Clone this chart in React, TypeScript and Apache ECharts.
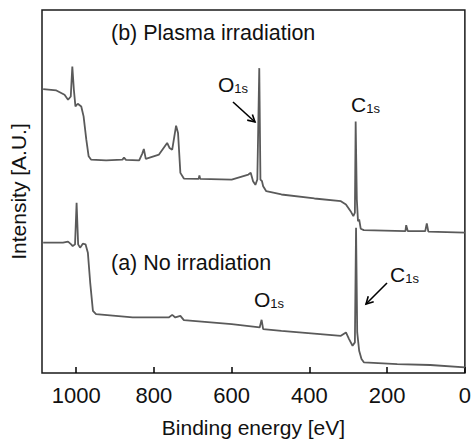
import React, { useEffect, useRef } from "react";
import * as echarts from "echarts";

// (b) Plasma irradiation: binding energy [eV] and intensity [A.U.]
const energyB = [1085, 1051, 1030, 1021, 1014, 1010, 1006, 1002, 996, 987, 981, 974, 968, 962, 923, 881, 877, 872, 838, 830, 826, 821, 787, 766, 760, 753, 743, 738, 732, 723, 685, 683, 681, 600, 557, 551, 545, 539, 534, 529, 526, 522, 519, 511, 472, 387, 319, 306, 294, 287, 283, 281, 278, 275, 272, 268, 260, 153, 151, 147, 102, 98, 94, 0];
const intensityB = [284.7, 283.3, 279, 274, 277.3, 307.3, 284, 267.3, 270, 267.3, 257.3, 234, 217.3, 214, 213.3, 214, 216, 213.7, 213.3, 220, 224.7, 214.7, 219, 230.7, 225.7, 224, 248, 240.7, 200.7, 195, 194.7, 198, 194.7, 194, 199, 200.7, 192.3, 188.7, 194, 305.7, 194, 192.3, 187.3, 182.3, 179, 175, 172.3, 169, 162.3, 157.3, 160.7, 252.3, 174, 152.3, 154, 144.7, 143.3, 142.3, 148.3, 142.3, 142.3, 150, 141.7, 140.7];

// (a) No irradiation
const energyA = [1085, 1034, 1021, 1013, 1009, 1003, 999, 995, 990, 983, 976, 970, 964, 957, 949, 855, 762, 753, 745, 732, 723, 600, 528, 523, 519, 472, 319, 306, 298, 289, 283, 280, 277, 272, 266, 260, 174, 89, 0];
const intensityA = [130.7, 130.7, 131.7, 129, 127.3, 129, 170.7, 129, 125.7, 129.7, 129, 120.7, 90.7, 62.3, 59, 55.7, 55.7, 58.3, 55.7, 57.3, 53, 49, 45.7, 53.3, 44, 42.3, 37.3, 40.7, 34, 27.3, 30.7, 145.7, 40.7, 22.3, 14, 10.7, 9, 8, 5.7];

const xTickStep = 200;
const xMin = 0;
const xMax = 1088;

const FONT = "'Liberation Sans', Arial, Helvetica, sans-serif";
const INK = "#111";

function arrow(x1: number, y1: number, x2: number, y2: number, head = 8) {
  const ang = Math.atan2(y2 - y1, x2 - x1);
  const a1 = ang + Math.PI - 0.5;
  const a2 = ang + Math.PI + 0.5;
  return [
    { type: "line", shape: { x1, y1, x2, y2 }, style: { stroke: "#000", lineWidth: 1.6 }, z: 10 },
    {
      type: "polyline",
      shape: {
        points: [
          [x2 + head * Math.cos(a1), y2 + head * Math.sin(a1)],
          [x2, y2],
          [x2 + head * Math.cos(a2), y2 + head * Math.sin(a2)],
        ],
      },
      style: { stroke: "#000", lineWidth: 1.6, fill: null },
      z: 10,
    },
  ];
}

function subLabel(main: string, sub: string, x: number, y: number) {
  return {
    type: "text",
    x,
    y,
    z: 10,
    style: {
      text: `{a|${main}}{b|${sub}}`,
      verticalAlign: "middle",
      align: "left",
      fill: INK,
      rich: {
        a: { fontSize: 21, lineHeight: 24, fontFamily: FONT, fill: INK },
        b: { fontSize: 13, lineHeight: 15, padding: [9, 0, 0, 0], fontFamily: FONT, fill: INK },
      },
    },
  };
}

function plainLabel(text: string, x: number, y: number) {
  return {
    type: "text",
    x,
    y,
    z: 10,
    style: { text, fontSize: 21.5, fontFamily: FONT, fill: INK, verticalAlign: "middle", align: "left" },
  };
}

export default function App() {
  const ref = useRef<HTMLDivElement>(null);
  useEffect(() => {
    if (!ref.current) return;
    const chart = echarts.init(ref.current, undefined, { renderer: "svg" });
    chart.setOption({
      animation: false,
      backgroundColor: "#fff",
      grid: {
        left: 42,
        right: 5,
        top: 10,
        bottom: 69,
        show: true,
        borderColor: "#1a1a1a",
        borderWidth: 1.5,
        backgroundColor: "transparent",
      },
      xAxis: {
        type: "value",
        inverse: true,
        min: xMin,
        max: xMax,
        interval: xTickStep,
        name: "Binding energy [eV]",
        nameLocation: "middle",
        nameGap: 44,
        nameTextStyle: { fontSize: 21, color: INK, fontFamily: FONT },
        axisLine: { show: false },
        axisTick: { show: true, inside: true, length: 6, lineStyle: { color: "#000", width: 1.5 } },
        axisLabel: {
          fontSize: 22,
          color: INK,
          fontFamily: FONT,
          margin: 11,
          showMaxLabel: false,
          formatter: (v: number) => (v % xTickStep === 0 ? String(v) : ""),
        },
        splitLine: { show: false },
      },
      yAxis: {
        type: "value",
        min: 0,
        max: 364,
        name: "Intensity [A.U.]",
        nameLocation: "middle",
        nameGap: 13,
        nameTextStyle: { fontSize: 21, color: INK, fontFamily: FONT },
        axisLine: { show: false },
        axisTick: { show: false },
        axisLabel: { show: false },
        splitLine: { show: false },
      },
      series: [
        {
          name: "(b) Plasma irradiation",
          type: "line",
          showSymbol: false,
          lineStyle: { color: "#5a5a5a", width: 1.8 },
          data: energyB.map((e, i) => [e, intensityB[i]]),
        },
        {
          name: "(a) No irradiation",
          type: "line",
          showSymbol: false,
          lineStyle: { color: "#5a5a5a", width: 1.8 },
          data: energyA.map((e, i) => [e, intensityA[i]]),
        },
      ],
      graphic: [
        plainLabel("(b) Plasma irradiation", 111, 33),
        plainLabel("(a) No irradiation", 111, 263),
        subLabel("O", "1s", 218, 84),
        subLabel("C", "1s", 351, 104),
        subLabel("C", "1s", 390, 274),
        subLabel("O", "1s", 254, 299),
        ...arrow(233, 102, 255, 122),
        ...arrow(387, 283, 366, 304),
      ],
    });
    return () => chart.dispose();
  }, []);
  return (
    <div
      ref={ref}
      style={{ position: "fixed", left: 0, top: 0, width: 474, height: 443, background: "#fff" }}
    />
  );
}
